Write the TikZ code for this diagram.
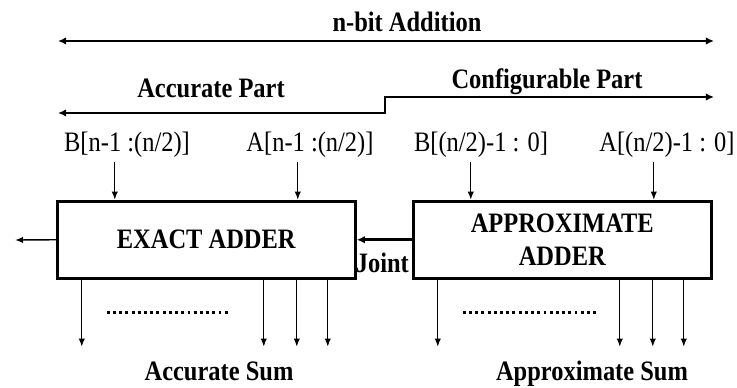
\documentclass[tikz,border=0pt]{standalone}
\usepackage{fontspec}
\setmainfont{Liberation Serif}[FakeStretch=0.87]
\usepackage{tikz}
\usetikzlibrary{arrows.meta,calc}
\tikzset{
	adder/.style={draw,line width=2.5pt,minimum width=8.94cm,minimum height=2.31cm,inner sep=0pt,align=center,font=\bfseries\fontsize{24}{28}\selectfont},
	busarrow/.style={line width=1.2pt,-{Latex[length=7pt,width=5.5pt]}},
	jointarrow/.style={line width=2.4pt,-{Latex[length=7pt,width=6.5pt]}},
	spanarrow/.style={line width=2.4pt,{Latex[length=7pt,width=6.5pt]}-{Latex[length=7pt,width=6.5pt]}},
	dotline/.style={line width=2.5pt,dash pattern=on 2.5pt off 2.8pt},
	heading/.style={anchor=base,font=\bfseries\fontsize{24}{28}\selectfont},
	pinlabel/.style={anchor=base,font=\fontsize{24}{28}\selectfont}
}
\begin{document}
\begin{tikzpicture}[x=0.03cm,y=-0.03cm]
\useasboundingbox (0,0) rectangle (737,387);
\node[heading] (total) at (407,31) {n-bit Addition};
\node[heading] (accpart) at (211,97) {Accurate Part};
\node[heading] (cfgpart) at (547,88) {Configurable Part};
\coordinate (tl) at (58,41);
\coordinate (tr) at (714,41);
\coordinate (ml) at (58,113);
\coordinate (mstep) at (385,113);
\coordinate (mr) at (714,97);
\draw[spanarrow] (tl) -- (tr);
\draw[spanarrow] (ml) -- (mstep) |- (mr);
\node[adder] (exact) at (206.25,239.75) {EXACT ADDER};
\node[adder] (approx) at (562.25,239.75) {APPROXIMATE\\ADDER};
\node[pinlabel] (bhi) at (127,151) {B[n-1 :(n/2)]};
\node[pinlabel] (ahi) at (310,151) {A[n-1 :(n/2)]};
\node[pinlabel] (blo) at (481,151) {B[(n/2)-1 : 0]};
\node[pinlabel] (alo) at (667,151) {A[(n/2)-1 : 0]};
\foreach \b in {exact,approx}{
	\foreach \d in {59,242}
		\draw[busarrow] ($(\b.north west)+(\d,-38)$) -- ($(\b.north west)+(\d,0)$);
	\foreach \d in {26,208,241,272}
		\draw[busarrow] ($(\b.south west)+(\d,0)$) -- ++(0,67);
}
\foreach \b/\e in {exact/175,approx/185}
	\draw[dotline] ($(\b.south west)+(51,33)$) -- ($(\b.south west)+(\e,33)$);
\draw[jointarrow] (approx.west) -- (exact.east);
\node[heading,anchor=base east] (joint) at (413,272) {Joint};
\coordinate (carry) at (15,240);
\draw[busarrow] (exact.west) -- (carry);
\node[heading] (accsum) at (219,380) {Accurate Sum};
\node[heading] (apxsum) at (592,380) {Approximate Sum};
\end{tikzpicture}
\end{document}
